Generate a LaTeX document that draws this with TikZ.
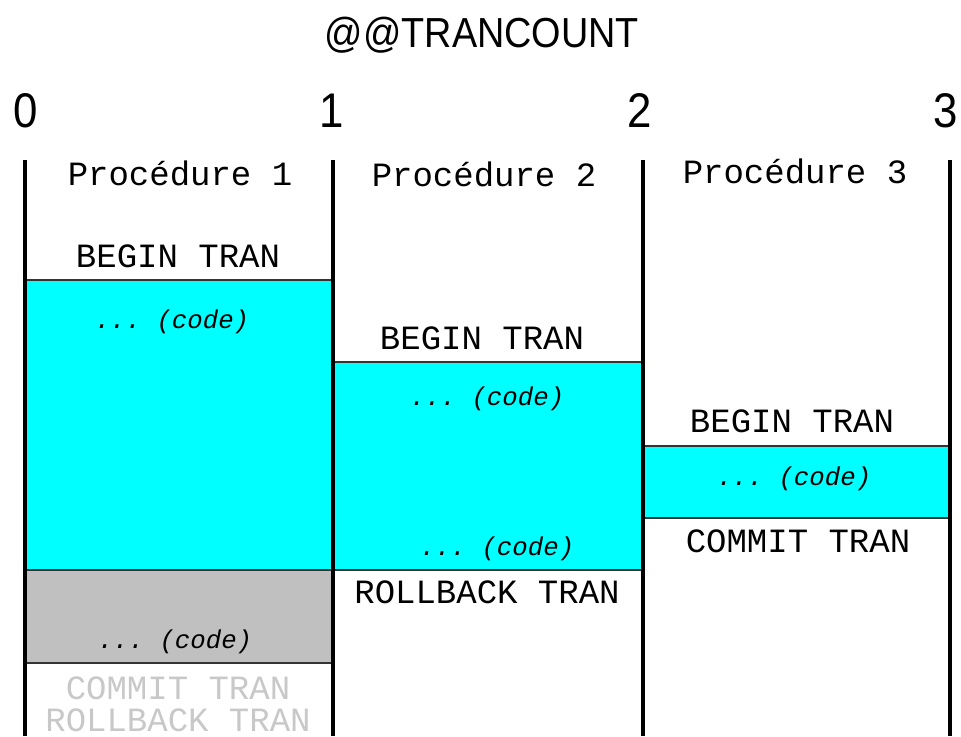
\documentclass[tikz,border=0pt]{standalone}
\usepackage{fontspec}
\setmainfont{Liberation Sans}
\setmonofont{Liberation Mono}
\newfontfamily\countfont[FakeStretch=0.9]{Liberation Sans}
\definecolor{trancyan}{RGB}{0,255,255}
\definecolor{trangray}{RGB}{192,192,192}
\definecolor{ghosttext}{RGB}{200,200,200}

\begin{document}
\begin{tikzpicture}[x=0.75pt,y=-0.75pt,
    lbl/.style={anchor=base,inner sep=0pt,font=\ttfamily\fontsize{25.5}{25.5}\selectfont},
    code/.style={anchor=base,inner sep=0pt,font=\ttfamily\itshape\fontsize{19.3}{19.3}\selectfont},
    sep/.style={line width=1.5pt,draw=black!80}]
  \useasboundingbox (0,0) rectangle (961,736);
  % Background
  \fill[trancyan] (25,280) rectangle (333,570);
  \fill[trangray] (25,570) rectangle (333,663);
  \fill[trancyan] (333,362) rectangle (643,570);
  \fill[trancyan] (643,446) rectangle (950,518);
  % Separators
  \draw[sep] (25,280) -- (333,280);
  \draw[sep] (25,570) -- (643,570);
  \draw[sep] (25,663) -- (333,663);
  \draw[sep] (333,362) -- (643,362);
  \draw[sep] (643,446) -- (950,446);
  \draw[sep] (643,518) -- (950,518);
  % Columns
  \foreach \x in {25,333,643,950}
    \draw[line width=3pt] (\x,160) -- (\x,736);
  % Counter
  \node[anchor=base,inner sep=0pt,font=\countfont\fontsize{31.5}{31.5}\selectfont]
    (title) at (482,47) {@@TRANCOUNT};
  \foreach \n/\x in {0/26,1/332,2/640,3/946}
    \node[anchor=base,inner sep=0pt,font=\countfont\fontsize{36.5}{36.5}\selectfont]
      (n\n) at (\x,127) {\n};
  % Procedure 1
  \node[lbl] (p1) at (180,185) {Procédure 1};
  \node[lbl] (b1) at (178,267) {BEGIN TRAN};
  \node[code] (c1) at (172,328) {... (code)};
  \node[code] (g1) at (175,648) {... (code)};
  \node[lbl,text=ghosttext,align=center,text depth=0pt,
    font=\ttfamily\fontsize{25.5}{24}\selectfont]
    (m1) at (178,731) {COMMIT TRAN\\ROLLBACK TRAN};
  % Procedure 2
  \node[lbl] (p2) at (484,186) {Procédure 2};
  \node[lbl] (b2) at (482,349) {BEGIN TRAN};
  \node[code] (c2) at (487,405) {... (code)};
  \node[code] (d2) at (497,555) {... (code)};
  \node[lbl] (r2) at (487,603) {ROLLBACK TRAN};
  % Procedure 3
  \node[lbl] (p3) at (795,183) {Procédure 3};
  \node[lbl] (b3) at (792,432) {BEGIN TRAN};
  \node[code] (c3) at (794,485) {... (code)};
  \node[lbl] (m3) at (798,552) {COMMIT TRAN};
\end{tikzpicture}
\end{document}
